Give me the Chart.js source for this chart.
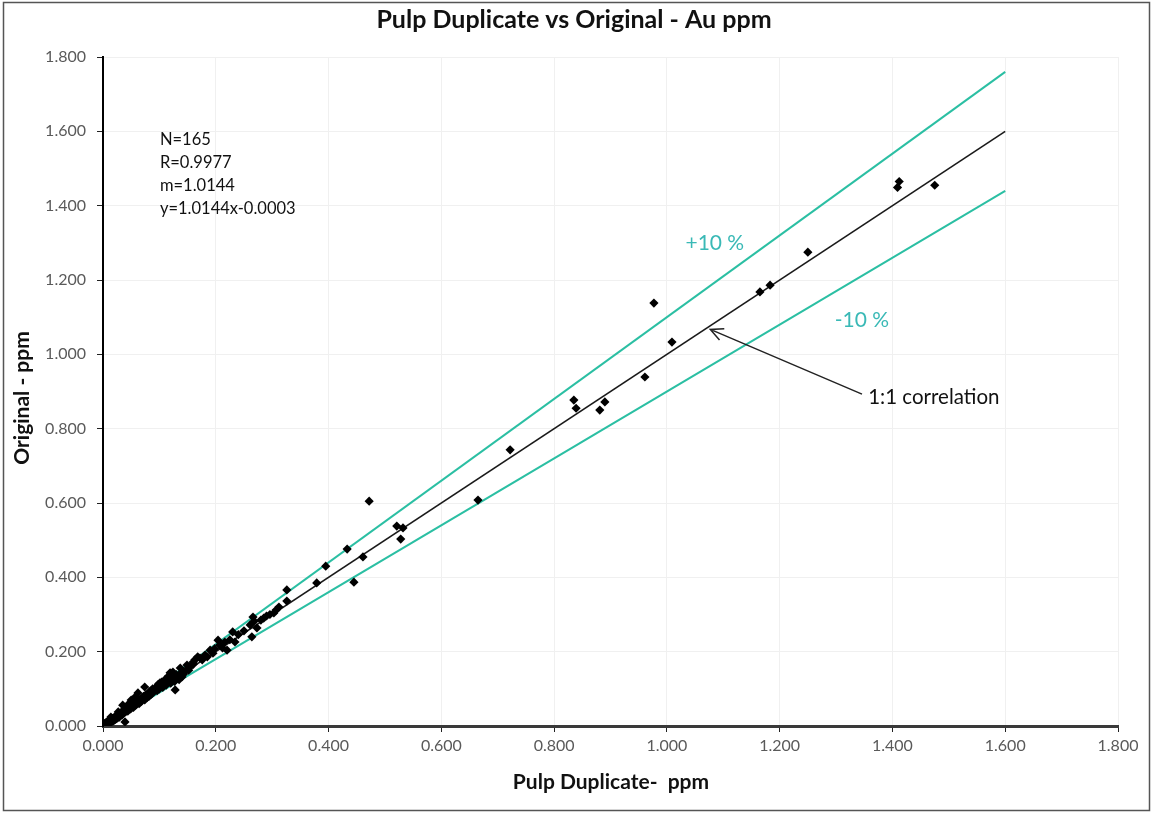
<!DOCTYPE html>
<html>
<head>
<meta charset="utf-8">
<script src="https://cdn.jsdelivr.net/npm/chart.js@4.4.1/dist/chart.umd.min.js"></script>
<style>
  html, body { margin: 0; padding: 0; background: #fff; }
  #wrap { width: 1153px; height: 813px; position: relative; }
</style>
</head>
<body>
<div id="wrap"><canvas id="c" width="1153" height="813"></canvas></div>
<script>
// Pulp duplicate assays (x) against original assays (y), Au ppm
const dupValues = [
  1.475, 1.412, 1.409, 1.250, 1.183, 1.165, 0.977, 1.009, 0.961, 0.890, 0.881, 0.835,
  0.839, 0.722, 0.665, 0.472, 0.521, 0.532, 0.528, 0.433, 0.461, 0.395, 0.379, 0.445,
  0.326, 0.326, 0.307, 0.303, 0.266, 0.261, 0.273, 0.264, 0.230, 0.234, 0.204, 0.220,
  0.207, 0.190, 0.181, 0.172, 0.168, 0.160, 0.149, 0.137, 0.124, 0.140, 0.133, 0.119,
  0.128, 0.101, 0.074,
  0.155, 0.152, 0.146, 0.143, 0.138, 0.135, 0.130, 0.127, 0.125, 0.122, 0.120, 0.118,
  0.116, 0.114, 0.112, 0.110, 0.108, 0.106, 0.104, 0.102, 0.100, 0.098, 0.096, 0.094,
  0.092, 0.090, 0.088, 0.086, 0.084, 0.082, 0.080, 0.078, 0.076, 0.074, 0.072, 0.070,
  0.068, 0.066, 0.064, 0.062, 0.060, 0.058, 0.056, 0.054, 0.052, 0.050, 0.049, 0.047,
  0.045, 0.044, 0.042, 0.040, 0.039, 0.038, 0.036, 0.035, 0.034, 0.033, 0.031, 0.030,
  0.029, 0.028, 0.027, 0.026, 0.025, 0.024, 0.023, 0.022, 0.021, 0.020, 0.019, 0.018,
  0.017, 0.016, 0.015, 0.014, 0.013, 0.012, 0.011, 0.010, 0.009, 0.008, 0.007, 0.006,
  0.005, 0.004, 0.004, 0.003, 0.003, 0.002, 0.002, 0.001, 0.001, 0.000, 0.000,
  0.160, 0.163, 0.176, 0.185, 0.195, 0.198, 0.212, 0.216, 0.225, 0.240, 0.250, 0.268,
  0.285, 0.296, 0.312, 0.290, 0.280, 0.046, 0.057
];
const origValues = [
  1.455, 1.465, 1.449, 1.275, 1.186, 1.168, 1.138, 1.033, 0.939, 0.872, 0.850, 0.877,
  0.855, 0.743, 0.608, 0.605, 0.538, 0.533, 0.503, 0.476, 0.455, 0.430, 0.385, 0.387,
  0.366, 0.336, 0.312, 0.304, 0.293, 0.272, 0.264, 0.240, 0.253, 0.226, 0.231, 0.204,
  0.218, 0.204, 0.191, 0.183, 0.186, 0.172, 0.164, 0.156, 0.145, 0.132, 0.132, 0.143,
  0.097, 0.116, 0.105,
  0.160, 0.150, 0.148, 0.140, 0.142, 0.125, 0.138, 0.120, 0.130, 0.128, 0.115, 0.122,
  0.134, 0.118, 0.110, 0.125, 0.112, 0.104, 0.118, 0.108, 0.100, 0.112, 0.095, 0.104,
  0.098, 0.092, 0.100, 0.086, 0.094, 0.080, 0.088, 0.076, 0.084, 0.070, 0.080, 0.074,
  0.066, 0.072, 0.060, 0.089, 0.064, 0.056, 0.062, 0.050, 0.058, 0.070, 0.046, 0.052,
  0.044, 0.040, 0.048, 0.038, 0.011, 0.044, 0.034, 0.056, 0.030, 0.038, 0.028, 0.034,
  0.024, 0.032, 0.038, 0.022, 0.028, 0.020, 0.026, 0.018, 0.024, 0.016, 0.022, 0.014,
  0.020, 0.012, 0.018, 0.024, 0.010, 0.016, 0.008, 0.014, 0.006, 0.012, 0.005, 0.010,
  0.004, 0.008, 0.002, 0.006, 0.001, 0.004, 0.002, 0.003, 0.001, 0.002, 0.000,
  0.166, 0.178, 0.178, 0.186, 0.196, 0.208, 0.210, 0.226, 0.232, 0.246, 0.256, 0.282,
  0.290, 0.300, 0.320, 0.296, 0.285, 0.060, 0.078
];

// Reference lines: 1:1 and the +/-10 % envelope
const refX = [0, 1.6];
const oneToOne = [0, 1.6];
const plusTen = [0, 1.76];
const minusTen = [0, 1.44];

// Axis tick values
const tickValues = [0, 0.2, 0.4, 0.6, 0.8, 1.0, 1.2, 1.4, 1.6, 1.8];

// Regression summary
const statsLines = ['N=165', 'R=0.9977', 'm=1.0144', 'y=1.0144x-0.0003'];

const FONT = 'Lato, "Open Sans", "DejaVu Sans", sans-serif';
const TEAL = '#2bbfa3';
const TEAL_TEXT = '#3ab9b6';

const scatterPts = dupValues.map((x, i) => ({ x, y: origValues[i] }));
const toPts = ys => refX.map((x, i) => ({ x, y: ys[i] }));

const annotations = {
  id: 'annotations',
  afterDatasetsDraw(chart) {
    const { ctx, scales: { x, y } } = chart;
    ctx.save();
    // stats block
    ctx.fillStyle = '#111';
    ctx.font = '16.5px ' + FONT;
    ctx.textAlign = 'left';
    ctx.textBaseline = 'middle';
    const statsY = [1.577, 1.515, 1.453, 1.391];
    statsLines.forEach((t, i) => ctx.fillText(t, x.getPixelForValue(0.101), y.getPixelForValue(statsY[i])));

    // envelope labels
    ctx.fillStyle = TEAL_TEXT;
    ctx.font = '21px ' + FONT;
    ctx.textAlign = 'center';
    ctx.fillText('+10 %', x.getPixelForValue(1.085), y.getPixelForValue(1.30));
    ctx.fillText('-10 %', x.getPixelForValue(1.346), y.getPixelForValue(1.092));

    // 1:1 callout with arrow
    const tx = x.getPixelForValue(1.346), ty = y.getPixelForValue(0.893);
    const hx = x.getPixelForValue(1.077), hy = y.getPixelForValue(1.067);
    ctx.strokeStyle = '#222';
    ctx.lineWidth = 1.5;
    ctx.beginPath();
    ctx.moveTo(tx, ty);
    ctx.lineTo(hx, hy);
    const ang = Math.atan2(ty - hy, tx - hx);
    const L = 14, a = 0.45;
    ctx.moveTo(hx + L * Math.cos(ang - a), hy + L * Math.sin(ang - a));
    ctx.lineTo(hx, hy);
    ctx.lineTo(hx + L * Math.cos(ang + a), hy + L * Math.sin(ang + a));
    ctx.stroke();
    ctx.fillStyle = '#111';
    ctx.font = '20.5px ' + FONT;
    ctx.textAlign = 'left';
    ctx.fillText('1:1 correlation', x.getPixelForValue(1.357), y.getPixelForValue(0.885));
    ctx.restore();
  },
  afterDraw(chart) {
    const { ctx, chartArea } = chart;
    ctx.save();
    // title
    ctx.fillStyle = '#111';
    ctx.font = 'bold 25px ' + FONT;
    ctx.textAlign = 'center';
    ctx.textBaseline = 'middle';
    ctx.fillText('Pulp Duplicate vs Original - Au ppm', 574, 20);
    // axis titles
    ctx.font = 'bold 21px ' + FONT;
    ctx.fillText('Pulp Duplicate-  ppm', 611, 782);
    ctx.translate(22, 398);
    ctx.rotate(-Math.PI / 2);
    ctx.fillText('Original - ppm', 0, 0);
    ctx.restore();
    // outer frame
    ctx.save();
    ctx.strokeStyle = '#555';
    ctx.lineWidth = 1.5;
    ctx.strokeRect(3.5, 2.5, 1146, 808);
    ctx.restore();
  }
};

const tickFmt = v => Number(v).toFixed(3);

new Chart(document.getElementById('c'), {
  type: 'scatter',
  data: {
    datasets: [
      {
        data: scatterPts,
        pointStyle: 'rectRot',
        radius: 4.6,
        backgroundColor: '#000',
        borderColor: '#000',
        borderWidth: 0,
        order: 1
      },
      {
        type: 'line', data: toPts(oneToOne), borderColor: '#1a1a1a', borderWidth: 1.6,
        pointRadius: 0, fill: false, order: 2
      },
      {
        type: 'line', data: toPts(plusTen), borderColor: TEAL, borderWidth: 2,
        pointRadius: 0, fill: false, order: 2
      },
      {
        type: 'line', data: toPts(minusTen), borderColor: TEAL, borderWidth: 2,
        pointRadius: 0, fill: false, order: 2
      }
    ]
  },
  options: {
    responsive: false,
    animation: false,
    events: [],
    layout: { padding: { top: 57, right: 35, left: 0, bottom: 0 } },
    plugins: { legend: { display: false }, title: { display: false }, tooltip: { enabled: false } },
    scales: {
      x: {
        type: 'linear', min: 0, max: 1.8,
        afterBuildTicks: s => { s.ticks = tickValues.map(v => ({ value: v })); },
        afterFit: s => { s.height = 87; },
        border: { color: '#3a3a3a', width: 3 },
        grid: { color: '#f0f0f0', lineWidth: 1, tickColor: '#222', tickLength: 6 },
        ticks: { callback: tickFmt, color: '#5a5a5a', font: { family: FONT, size: 16 }, padding: 4, maxRotation: 0 }
      },
      y: {
        type: 'linear', min: 0, max: 1.8,
        afterBuildTicks: s => { s.ticks = tickValues.map(v => ({ value: v })); },
        afterFit: s => { s.width = 103; },
        border: { color: '#000', width: 2 },
        grid: { color: '#f0f0f0', lineWidth: 1, tickColor: '#222', tickLength: 6 },
        ticks: { callback: tickFmt, color: '#5a5a5a', font: { family: FONT, size: 16 }, padding: 11 }
      }
    }
  },
  plugins: [annotations]
});
</script>
</body>
</html>
